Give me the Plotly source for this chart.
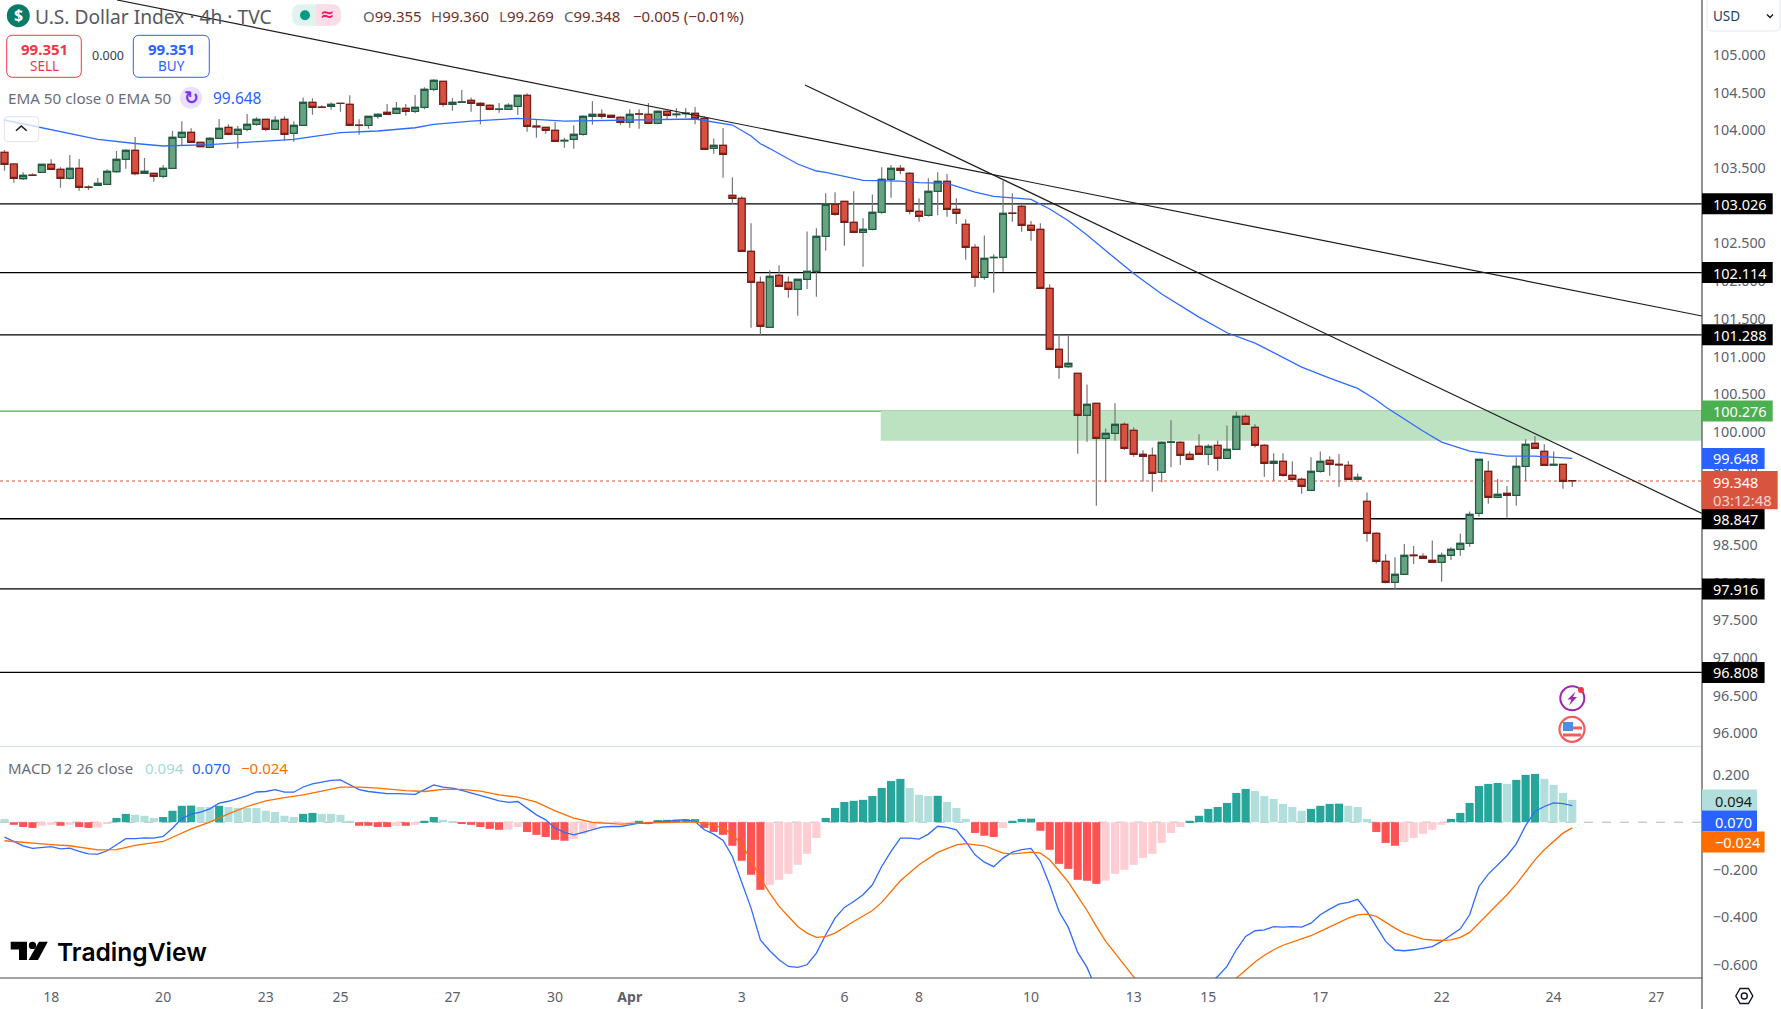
import plotly.graph_objs as go

# Velas 4h
opens = [103.709,103.554,103.359,103.408,103.443,103.549,103.483,103.364,103.496,103.246,
    103.271,103.284,103.452,103.616,103.735,103.430,103.430,103.390,103.496,103.908,
    103.974,103.841,103.775,103.894,104.040,103.948,104.014,104.080,104.147,104.014,
    104.147,103.961,104.067,104.372,104.310,104.319,104.360,104.346,104.070,104.067,
    104.186,104.239,104.226,104.293,104.253,104.306,104.545,104.651,104.346,104.372,
    104.399,104.359,104.332,104.279,104.279,104.319,104.465,104.056,104.040,104.001,
    103.860,103.881,103.948,104.186,104.213,104.200,104.173,104.107,104.220,104.213,
    104.093,104.253,104.210,104.222,104.226,104.160,103.762,103.802,103.138,103.098,
    102.395,101.984,101.387,102.077,101.984,101.891,102.024,102.130,102.594,103.019,
    103.058,102.780,102.647,102.687,102.913,103.350,103.496,103.430,102.926,102.873,
    103.191,103.324,102.952,102.753,102.448,102.050,102.310,102.316,102.902,102.992,
    102.740,102.687,101.904,101.095,100.865,100.776,100.219,100.378,99.914,99.980,
    100.100,100.020,99.701,99.688,99.463,99.861,99.861,99.701,99.808,99.701,
    99.821,99.648,99.768,100.206,100.060,99.821,99.582,99.609,99.423,99.370,
    99.224,99.476,99.622,99.570,99.555,99.370,99.078,98.653,98.282,98.003,
    98.109,98.364,98.348,98.295,98.269,98.361,98.441,98.521,98.919,99.476,
    99.131,99.184,99.157,99.542,99.847,99.741,99.560,99.569,99.355]
highs = [103.740,103.563,103.443,103.430,103.549,103.616,103.510,103.673,103.620,103.271,
    103.368,103.483,103.726,103.749,103.912,103.634,103.439,103.541,103.992,104.120,
    104.027,103.850,103.908,104.151,104.080,104.058,104.217,104.173,104.147,104.186,
    104.186,104.120,104.438,104.425,104.332,104.372,104.361,104.465,104.147,104.186,
    104.226,104.350,104.377,104.350,104.469,104.571,104.677,104.651,104.430,104.536,
    104.438,104.372,104.346,104.363,104.359,104.465,104.492,104.138,104.040,104.111,
    103.903,104.067,104.200,104.385,104.279,104.200,104.186,104.279,104.279,104.363,
    104.266,104.253,104.293,104.297,104.310,104.186,103.894,104.032,103.377,103.125,
    102.767,102.059,102.143,102.209,102.063,102.024,102.660,102.700,103.165,103.178,
    103.058,103.191,102.833,103.151,103.510,103.541,103.541,103.443,103.098,103.364,
    103.443,103.421,103.098,102.820,102.488,102.607,102.355,103.333,103.165,103.019,
    102.798,102.767,101.957,101.294,101.280,100.776,100.630,100.378,100.046,100.378,
    100.126,100.060,99.755,99.794,99.874,100.153,99.874,99.741,99.967,99.834,
    99.887,100.086,100.268,100.232,100.100,99.834,99.715,99.715,99.609,99.396,
    99.662,99.741,99.675,99.706,99.613,99.449,99.197,98.667,98.375,98.335,
    98.512,98.485,98.388,98.560,98.401,98.468,98.653,98.945,99.635,99.613,
    99.374,99.281,99.662,99.901,99.945,99.834,99.741,99.569,99.360]
lows = [103.465,103.306,103.342,103.395,103.443,103.474,103.240,103.350,103.200,103.209,
    103.262,103.275,103.439,103.492,103.404,103.421,103.319,103.364,103.496,103.802,
    103.837,103.775,103.762,103.886,103.934,103.762,103.987,104.063,103.987,104.005,
    103.864,103.850,104.067,104.209,104.301,104.275,104.248,104.067,103.943,104.023,
    104.155,104.204,104.222,104.195,104.226,104.279,104.518,104.315,104.262,104.372,
    104.248,104.080,104.266,104.235,104.270,104.204,103.983,103.903,103.956,103.855,
    103.771,103.757,103.930,104.076,104.155,104.173,104.076,104.036,104.023,104.080,
    104.080,104.147,104.169,104.169,104.080,103.749,103.691,103.373,103.019,102.395,
    101.382,101.280,101.387,101.931,101.780,101.541,101.895,101.794,102.404,102.868,
    102.470,102.647,102.192,102.674,102.895,103.107,103.417,102.886,102.789,102.859,
    102.873,102.855,102.758,102.285,101.926,102.019,101.847,102.125,102.789,102.656,
    102.537,101.904,101.095,100.705,100.852,99.710,99.870,99.020,99.330,99.883,
    99.759,99.671,99.343,99.206,99.330,99.529,99.560,99.626,99.701,99.560,
    99.485,99.648,99.768,100.100,99.794,99.405,99.348,99.405,99.370,99.180,
    99.224,99.458,99.418,99.273,99.370,99.370,98.543,98.255,97.990,97.910,
    98.109,98.246,98.313,98.269,98.012,98.300,98.357,98.476,98.874,99.047,
    99.118,98.861,99.020,99.348,99.781,99.555,99.555,99.246,99.269]
closes = [103.549,103.364,103.404,103.404,103.549,103.483,103.364,103.496,103.244,103.242,
    103.297,103.457,103.616,103.735,103.426,103.457,103.390,103.496,103.908,103.974,
    103.841,103.784,103.894,104.027,103.948,104.014,104.080,104.147,104.014,104.133,
    103.948,104.067,104.372,104.306,104.304,104.346,104.357,104.067,104.065,104.186,
    104.213,104.213,104.293,104.253,104.306,104.545,104.664,104.346,104.372,104.377,
    104.359,104.332,104.279,104.282,104.332,104.465,104.054,104.045,104.001,103.855,
    103.868,103.948,104.186,104.213,104.186,104.173,104.107,104.213,104.215,104.093,
    104.253,104.200,104.215,104.228,104.155,103.749,103.802,103.682,103.098,102.395,
    101.984,101.400,102.063,101.931,101.891,102.024,102.130,102.594,103.019,102.886,
    102.780,102.647,102.687,102.913,103.350,103.496,103.470,102.926,102.859,103.191,
    103.324,102.952,102.899,102.448,102.050,102.302,102.316,102.899,102.897,102.740,
    102.674,101.904,101.095,100.856,100.909,100.219,100.365,99.914,99.980,100.100,
    99.781,99.701,99.675,99.449,99.861,99.866,99.688,99.635,99.701,99.808,
    99.648,99.768,100.206,100.100,99.821,99.582,99.609,99.423,99.370,99.277,
    99.476,99.609,99.569,99.562,99.370,99.396,98.653,98.282,98.003,98.109,
    98.361,98.359,98.322,98.269,98.361,98.441,98.521,98.905,99.635,99.131,
    99.171,99.157,99.542,99.834,99.781,99.555,99.569,99.343,99.348]

ema_x = [0,3,10,14,17,22,26,31,36,40,44,46,50,55,60,66,71,74,78,80,81,82,85,87,88,92,96,98,101,104,
    106,110,112,114,116,118,119,121,124,128,131,134,136,139,142,145,147,148,152,154,157,161,164,168]
ema_y = [104.138,104.062,103.881,103.826,103.793,103.812,103.839,103.881,103.969,103.992,104.035,104.080,
    104.124,104.160,104.124,104.134,104.151,104.151,104.071,103.925,103.823,103.759,103.554,103.461,103.444,
    103.337,103.328,103.308,103.298,103.182,103.125,103.085,102.957,102.801,102.612,102.399,102.302,102.101,
    101.829,101.523,101.315,101.178,101.055,100.860,100.714,100.577,100.422,100.329,100.011,99.865,99.745,
    99.679,99.679,99.648]

macd_hist = [0.014,-0.011,-0.020,-0.024,-0.015,-0.011,-0.015,-0.011,-0.020,-0.024,
    -0.023,-0.007,0.018,0.035,0.031,0.027,0.018,0.022,0.048,0.069,
    0.070,0.064,0.064,0.069,0.064,0.060,0.060,0.060,0.048,0.043,
    0.027,0.022,0.035,0.039,0.035,0.035,0.031,0.006,-0.015,-0.015,
    -0.020,-0.020,-0.015,-0.015,-0.011,0.006,0.022,0.010,0.002,-0.007,
    -0.011,-0.020,-0.028,-0.032,-0.031,-0.020,-0.041,-0.053,-0.062,-0.074,
    -0.078,-0.070,-0.049,-0.028,-0.008,-0.006,-0.003,-0.002,0.006,-0.004,
    0.009,0.010,0.011,0.012,0.013,-0.024,-0.041,-0.053,-0.099,-0.162,
    -0.221,-0.284,-0.263,-0.242,-0.217,-0.179,-0.133,-0.066,0.018,0.060,
    0.085,0.090,0.094,0.110,0.144,0.173,0.182,0.144,0.115,0.110,
    0.111,0.085,0.060,0.014,-0.045,-0.057,-0.062,-0.024,0.006,0.014,
    0.015,-0.036,-0.116,-0.175,-0.196,-0.242,-0.246,-0.259,-0.246,-0.217,
    -0.200,-0.179,-0.150,-0.133,-0.087,-0.045,-0.020,0.006,0.027,0.056,
    0.064,0.081,0.123,0.140,0.131,0.110,0.098,0.077,0.064,0.048,
    0.056,0.069,0.077,0.078,0.069,0.064,0.014,-0.041,-0.087,-0.099,
    -0.083,-0.066,-0.049,-0.032,-0.011,0.014,0.039,0.081,0.152,0.161,
    0.165,0.161,0.178,0.199,0.203,0.182,0.157,0.123,0.094]
macd_line = [-0.063,-0.081,-0.099,-0.110,-0.105,-0.103,-0.112,-0.109,-0.123,-0.133,
    -0.134,-0.120,-0.095,-0.069,-0.069,-0.066,-0.067,-0.060,-0.025,0.015,
    0.034,0.042,0.056,0.080,0.088,0.099,0.112,0.127,0.129,0.137,
    0.126,0.126,0.148,0.161,0.168,0.176,0.178,0.159,0.137,0.129,
    0.124,0.120,0.120,0.119,0.117,0.137,0.157,0.147,0.143,0.134,
    0.124,0.113,0.101,0.090,0.083,0.087,0.059,0.031,0.010,-0.025,
    -0.043,-0.053,-0.043,-0.032,-0.021,-0.018,-0.018,-0.011,-0.004,-0.006,
    0.003,0.004,0.008,0.011,0.003,-0.032,-0.050,-0.077,-0.144,-0.249,
    -0.361,-0.495,-0.540,-0.578,-0.606,-0.610,-0.599,-0.550,-0.473,-0.403,
    -0.358,-0.333,-0.305,-0.263,-0.186,-0.123,-0.067,-0.067,-0.071,-0.050,
    -0.017,-0.022,-0.032,-0.081,-0.137,-0.168,-0.187,-0.151,-0.126,-0.115,
    -0.110,-0.165,-0.263,-0.375,-0.442,-0.547,-0.610,-0.703,-0.760,-0.800,
    -0.820,-0.830,-0.840,-0.840,-0.830,-0.810,-0.790,-0.760,-0.720,-0.680,
    -0.648,-0.606,-0.536,-0.480,-0.456,-0.452,-0.439,-0.441,-0.439,-0.441,
    -0.424,-0.389,-0.365,-0.344,-0.337,-0.324,-0.375,-0.438,-0.501,-0.537,
    -0.540,-0.536,-0.530,-0.523,-0.501,-0.476,-0.448,-0.389,-0.270,-0.218,
    -0.179,-0.141,-0.091,-0.014,0.045,0.066,0.081,0.078,0.070]
signal_x = [0,2,3,5,7,9,10,12,14,17,18,20,22,24,26,28,30,32,34,36,38,40,43,45,47,49,51,53,55,57,59,61,63,
    66,68,70,72,74,76,77,78,79,80,81,82,83,84,85,86,87,88,89,91,93,94,96,98,100,102,103,105,107,108,110,111,
    112,113,114,115,116,117,118,119,120,121,122,126,130,131,132,133,134,135,136,137,138,139,140,141,142,143,
    144,145,146,147,148,149,150,151,152,153,154,155,156,157,158,159,160,161,162,163,164,165,166,167,168]
signal_y = [-0.078,-0.085,-0.090,-0.094,-0.099,-0.110,-0.116,-0.115,-0.097,-0.081,-0.064,-0.028,0.000,0.035,
    0.066,0.090,0.103,0.115,0.131,0.147,0.147,0.143,0.133,0.129,0.138,0.138,0.131,0.115,0.105,0.084,0.048,
    0.017,-0.001,-0.008,-0.004,-0.003,0.000,0.001,-0.011,-0.025,-0.050,-0.095,-0.158,-0.235,-0.298,-0.354,
    -0.396,-0.438,-0.466,-0.484,-0.481,-0.466,-0.417,-0.371,-0.337,-0.246,-0.179,-0.127,-0.095,-0.090,-0.099,
    -0.130,-0.133,-0.126,-0.130,-0.158,-0.204,-0.252,-0.312,-0.371,-0.438,-0.501,-0.550,-0.599,-0.648,-0.700,
    -0.800,-0.720,-0.690,-0.655,-0.620,-0.587,-0.559,-0.536,-0.517,-0.503,-0.490,-0.477,-0.459,-0.441,-0.420,
    -0.403,-0.389,-0.386,-0.396,-0.421,-0.445,-0.466,-0.480,-0.491,-0.495,-0.497,-0.494,-0.484,-0.463,-0.424,
    -0.382,-0.344,-0.305,-0.260,-0.207,-0.158,-0.116,-0.081,-0.046,-0.024]

date_pos = [5,17,28,36,48,59,67,79,90,98,110,121,129,141,154,166,177]
date_text = ['18','20','23','25','27','30','<b>Apr</b>','3','6','8','10','13','15','17','22','24','27']
price_ticks = [96,96.5,97,97.5,98,98.5,99,99.5,100,100.5,101,101.5,102,102.5,103,103.5,104,104.5,105]
macd_ticks = [0.2,-0.2,-0.4,-0.6]
support_levels = [103.026,102.114,101.288,98.847,97.916,96.808]
trend1_x = [12.06,181.9]
trend1_y = [105.73,101.537]
trend2_x = [85.78,181.9]
trend2_y = [104.602,98.918]
zone_top = 100.276
zone_bottom = 99.882
zone_start = 93.9
last_price = 99.348
ema_last = 99.648

W, H = 1702.0, 978.0
FONT = 'Noto Sans'
GREY = '#5d606b'
n = len(closes)
bars = list(range(n))


def fx(x):
    return x / W


def fy(y):
    return 1 - y / H


def hist_colors(vals):
    cols = []
    prev = vals[0]
    for v in vals:
        if v >= 0:
            cols.append('#26a69a' if v > prev else '#b2dfdb')
        else:
            cols.append('#ffcdd2' if v > prev else '#ff5252')
        prev = v
    return cols


def poly(points, close=True):
    d = 'M' + ' L'.join(f'{fx(x):.5f},{fy(y):.5f}' for x, y in points)
    return d + (' Z' if close else '')


def rounded(x0, y0, x1, y1, r):
    return (f'M{fx(x0+r):.5f},{fy(y0):.5f} L{fx(x1-r):.5f},{fy(y0):.5f} Q{fx(x1):.5f},{fy(y0):.5f} {fx(x1):.5f},{fy(y0+r):.5f} '
            f'L{fx(x1):.5f},{fy(y1-r):.5f} Q{fx(x1):.5f},{fy(y1):.5f} {fx(x1-r):.5f},{fy(y1):.5f} '
            f'L{fx(x0+r):.5f},{fy(y1):.5f} Q{fx(x0):.5f},{fy(y1):.5f} {fx(x0):.5f},{fy(y1-r):.5f} '
            f'L{fx(x0):.5f},{fy(y0+r):.5f} Q{fx(x0):.5f},{fy(y0):.5f} {fx(x0+r):.5f},{fy(y0):.5f} Z')


shapes = []
annots = []


def path(d, fill=None, line=None, width=1.0, layer='above'):
    shapes.append(dict(type='path', path=d, xref='paper', yref='paper', fillcolor=fill or 'rgba(0,0,0,0)',
                       line=dict(color=line or 'rgba(0,0,0,0)', width=width if line else 0), layer=layer))


def circle(cx, cy, r, fill=None, line=None, width=1.0):
    shapes.append(dict(type='circle', xref='paper', yref='paper', x0=fx(cx-r), x1=fx(cx+r), y0=fy(cy+r), y1=fy(cy-r),
                       fillcolor=fill or 'rgba(0,0,0,0)', line=dict(color=line or 'rgba(0,0,0,0)', width=width if line else 0),
                       layer='above'))


def rect(x0, y0, x1, y1, fill):
    shapes.append(dict(type='rect', xref='paper', yref='paper', x0=fx(x0), x1=fx(x1), y0=fy(y1), y1=fy(y0),
                       fillcolor=fill, line=dict(width=0), layer='above'))


def text(x, y, s, size=14, color=GREY, anchor='left', family=FONT, weight=None):
    f = dict(family=family, size=size, color=color)
    if weight:
        f['weight'] = weight
    annots.append(dict(xref='paper', yref='paper', x=fx(x), y=fy(y), text=s, showarrow=False, xanchor=anchor,
                       yanchor='middle', font=f, borderpad=0))


def badge(level, s, bg, fg, width, yref='y', tx=1712):
    # etiqueta de precio sobre el eje derecho
    shapes.append(dict(type='rect', xref='paper', yref=yref, x0=1, x1=fx(W+width), ysizemode='pixel', yanchor=level,
                       y0=-10.5, y1=10.5, fillcolor=bg, line=dict(width=0), layer='above'))
    annots.append(dict(xref='paper', yref=yref, x=fx(tx), y=level, text=s, showarrow=False, xanchor='left',
                       yanchor='middle', font=dict(family=FONT, size=14.5, color=fg), borderpad=0))


fig = go.Figure()

# mecha gris con los datos completos, cuerpo encima
fig.add_trace(go.Candlestick(
    x=bars, open=opens, high=highs, low=lows, close=closes, whiskerwidth=0,
    increasing=dict(line=dict(color='#787878', width=1.2), fillcolor='rgba(0,0,0,0)'),
    decreasing=dict(line=dict(color='#787878', width=1.2), fillcolor='rgba(0,0,0,0)'),
    showlegend=False, hoverinfo='skip'))
fig.add_trace(go.Candlestick(
    x=bars, open=opens, close=closes,
    high=[max(o, c) for o, c in zip(opens, closes)],
    low=[min(o, c) for o, c in zip(opens, closes)],
    whiskerwidth=0,
    increasing=dict(line=dict(color='#1f5c42', width=1.2), fillcolor='#66a381'),
    decreasing=dict(line=dict(color='#7a1d16', width=1.2), fillcolor='#d8503f'),
    showlegend=False, hoverinfo='skip'))
fig.add_trace(go.Scatter(x=ema_x, y=ema_y, mode='lines', line=dict(color='#2f6bff', width=1.3), showlegend=False))
fig.add_trace(go.Scatter(x=trend1_x, y=trend1_y, mode='lines', line=dict(color='#1c1c1c', width=1.2), showlegend=False))
fig.add_trace(go.Scatter(x=trend2_x, y=trend2_y, mode='lines', line=dict(color='#1c1c1c', width=1.2), showlegend=False))

fig.add_trace(go.Bar(x=bars, y=macd_hist, marker=dict(color=hist_colors(macd_hist), line=dict(width=0)), width=0.87,
                     yaxis='y2', showlegend=False))
fig.add_trace(go.Scatter(x=bars, y=macd_line, mode='lines', line=dict(color='#2f6bff', width=1.3), yaxis='y2', showlegend=False))
fig.add_trace(go.Scatter(x=signal_x, y=signal_y, mode='lines', line=dict(color='#ff6d00', width=1.3), yaxis='y2', showlegend=False))

# niveles y zona
for lvl in support_levels:
    shapes.append(dict(type='line', xref='paper', yref='y', x0=0, x1=1, y0=lvl, y1=lvl, line=dict(color='#000000', width=1.3), layer='below'))
shapes.append(dict(type='rect', xref='x', yref='y', x0=zone_start, x1=181.9, y0=zone_bottom, y1=zone_top,
                   fillcolor='#bde2c2', line=dict(width=0), layer='below'))
shapes.append(dict(type='line', xref='paper', yref='y', x0=0, x1=1, y0=zone_top, y1=zone_top, line=dict(color='#4caf50', width=1.2), layer='below'))
shapes.append(dict(type='line', xref='paper', yref='y', x0=0, x1=1, y0=last_price, y1=last_price, line=dict(color='#d9543f', width=1, dash='dot'), layer='below'))
shapes.append(dict(type='line', xref='paper', yref='y2', x0=0, x1=1, y0=0, y1=0, line=dict(color='#b2b5be', width=1, dash='dash'), layer='below'))

# separadores y ejes
path(poly([(0, 746.5), (W, 746.5)], False), line='#e0e3eb', width=1.5, layer='below')
path(poly([(0, H), (W, H)], False), line='#4a4a4a', width=1.2)
path(poly([(W, 0), (W, 1009)], False), line='#4a4a4a', width=1.2)

# cabecera
circle(18.3, 15.7, 11.5, fill='#0b7a66')
text(18.3, 15.5, '<b>$</b>', size=16, color='#ffffff', anchor='center')
text(34, 16, 'U.S. Dollar Index · 4h · TVC', size=19.2, color='#555963')
path(rounded(292, 4.3, 341, 25.7, 9), fill='#dff3ef')
path('M%.5f,%.5f L%.5f,%.5f Q%.5f,%.5f %.5f,%.5f L%.5f,%.5f Q%.5f,%.5f %.5f,%.5f L%.5f,%.5f Z' % (
    fx(316), fy(4.3), fx(332), fy(4.3), fx(341), fy(4.3), fx(341), fy(15), fx(341), fy(15), fx(341), fy(25.7),
    fx(332), fy(25.7), fx(316), fy(25.7)), fill='#fbdde7')
circle(305, 15.3, 5, fill='#089981')
text(327, 14.5, '<b>≈</b>', size=17, color='#e91e63', anchor='center', family='DejaVu Sans')
VAL = '#6e2f2a'
for x, label, val in [(361.7, 'O', '99.355'), (430, 'H', '99.360'), (498.3, 'L', '99.269'), (563.3, 'C', '99.348')]:
    text(x, 16, f'<span style="color:{GREY}">{label}</span><span style="color:{VAL}">{val}</span>', size=15)
text(631.7, 16, '−0.005 (−0.01%)', size=15, color=VAL)

path(rounded(6.7, 35.3, 81.3, 77.3, 6), fill='#ffffff', line='#f23645', width=1)
text(44, 49, '<b>99.351</b>', size=15, color='#f23645', anchor='center')
text(44, 66, 'SELL', size=13.5, color='#f23645', anchor='center')
text(108, 55.5, '0.000', size=12.5, color='#3a3d45', anchor='center')
path(rounded(133.3, 35.3, 209.3, 77.3, 6), fill='#ffffff', line='#2962ff', width=1)
text(171.3, 49, '<b>99.351</b>', size=15, color='#2962ff', anchor='center')
text(171.3, 66, 'BUY', size=13.5, color='#2962ff', anchor='center')

text(6.5, 97.7, 'EMA 50 close 0 EMA 50', size=15.2, color='#6a6d78')
circle(191, 97.7, 11, fill='#e9e0fb')
text(191, 97, '<b>↻</b>', size=18, color='#7b2ff7', anchor='center', family='DejaVu Sans')
text(212, 97.7, '99.648', size=15.5, color='#2962ff')
path(rounded(4.3, 116.7, 38.7, 141.7, 4), fill='rgba(255,255,255,0.75)', line='#e0e3eb', width=1)
path(poly([(16, 130.7), (21.3, 126), (26.7, 130.7)], False), line='#131722', width=1.5)

# leyenda MACD
text(6.5, 767.7, 'MACD 12 26 close', size=15, color='#6a6d78')
text(143.9, 767.7, '0.094', size=15, color='#a6d9d4')
text(191.4, 767.7, '0.070', size=15, color='#2962ff')
text(239.6, 767.7, '−0.024', size=15, color='#ff6d00')

# logo
path(poly([(10.7, 941.7), (27, 941.7), (27, 960), (19, 960), (19, 949.5), (10.7, 949.5)]), fill='#000000')
circle(32.5, 945.4, 3.7, fill='#000000')
path(poly([(39, 941.7), (47.8, 941.7), (38, 960), (28.5, 960)]), fill='#000000')
text(56, 951.5, 'TradingView', size=24.6, color='#000000', family='Inter', weight=600)

# iconos de eventos
circle(1572.3, 698.3, 12, fill='#ffffff', line='#9c27b0', width=2)
path(poly([(1575.5, 691.5), (1567.5, 699.5), (1571.5, 699.5), (1569, 705.5), (1577, 697), (1573, 697)]), fill='#9c27b0')
circle(1581, 690, 3, fill='#f23645')
circle(1572, 729.3, 12.5, fill='#ffffff', line='#f45b5b', width=2.2)
rect(1563, 733.5, 1581, 736.5, '#f45b5b')
rect(1573, 726.5, 1582, 729.5, '#f45b5b')
rect(1563, 722, 1573, 731, '#4a90e2')

# eje derecho
path(rounded(1707, -4, 1780, 31, 5), fill='#ffffff', line='#e8eaf0', width=1)
text(1712, 16, 'USD', size=13.5, color='#1c3f66')
path(poly([(1767, 14.5), (1770, 17.5), (1773, 14.5)], False), line='#131722', width=1.4)

for lvl in support_levels[:3]:
    badge(lvl, f'{lvl:.3f}', '#000000', '#ffffff', 70.7)
for lvl in support_levels[3:]:
    badge(lvl, f'{lvl:.3f}', '#000000', '#ffffff', 62.6)
badge(zone_top, '100.276', '#4caf50', '#ffffff', 70.7)
badge(ema_last, '99.648', '#2962ff', '#ffffff', 62.6)

# etiqueta doble del ultimo precio
rect(W, 471, 1777.7, 509.3, '#d9543f')
text(1712, 481.7, '99.348', size=14.5, color='#ffffff')
text(1712, 499.7, '03:12:48', size=14.8, color='#f6d5cf')

# etiquetas MACD
rect(W, 789.5, 1757, 810.5, '#b2dfdb')
text(1714, 800.5, '0.094', size=14.5, color='#131722')
rect(W, 810.5, 1757, 831.5, '#2962ff')
text(1714, 821.5, '0.070', size=14.5, color='#ffffff')
rect(W, 831.5, 1764.6, 852.5, '#ff6d00')
text(1714, 842, '−0.024', size=14.5, color='#ffffff')

# engranaje
cx, cy = 1744.3, 996
path(poly([(cx-8.5, cy), (cx-4.2, cy-7.5), (cx+4.2, cy-7.5), (cx+8.5, cy), (cx+4.2, cy+7.5), (cx-4.2, cy+7.5)]), line='#131722', width=1.4)
circle(cx, cy, 3, line='#131722', width=1.4)

fig.update_layout(
    width=1781, height=1009,
    margin=dict(l=0, r=79, t=0, b=31),
    paper_bgcolor='#ffffff', plot_bgcolor='#ffffff',
    showlegend=False,
    barmode='overlay', boxmode='overlay', boxgap=0.27, boxgroupgap=0,
    xaxis=dict(
        range=[-0.482, 181.9], anchor='y2', showgrid=False, zeroline=False, rangeslider=dict(visible=False),
        tickmode='array', tickvals=date_pos, ticktext=date_text, ticks='outside', ticklen=6, tickcolor='rgba(0,0,0,0)',
        tickfont=dict(family=FONT, size=14, color=GREY), showline=False),
    yaxis=dict(
        domain=[1 - 746 / H, 1], range=[95.832, 105.73], side='right', anchor='x', showgrid=False, zeroline=False,
        tickmode='array', tickvals=price_ticks, tickformat='.3f', ticks='outside', ticklen=7, tickcolor='rgba(0,0,0,0)',
        tickfont=dict(family=FONT, size=14.3, color=GREY), showline=False),
    yaxis2=dict(
        domain=[0, (H - 747) / H], range=[-0.6546, 0.316], side='right', anchor='x', showgrid=False, zeroline=False,
        tickmode='array', tickvals=macd_ticks, tickformat='.3f', ticks='outside', ticklen=7, tickcolor='rgba(0,0,0,0)',
        tickfont=dict(family=FONT, size=14.3, color=GREY), showline=False),
    shapes=shapes, annotations=annots,
)

# sin el margen por defecto de la pagina ni la barra de plotly
fig.write_html("out.html", config=dict(displayModeBar=False),
               post_script="document.body.style.margin='0';document.body.style.overflow='hidden';")
